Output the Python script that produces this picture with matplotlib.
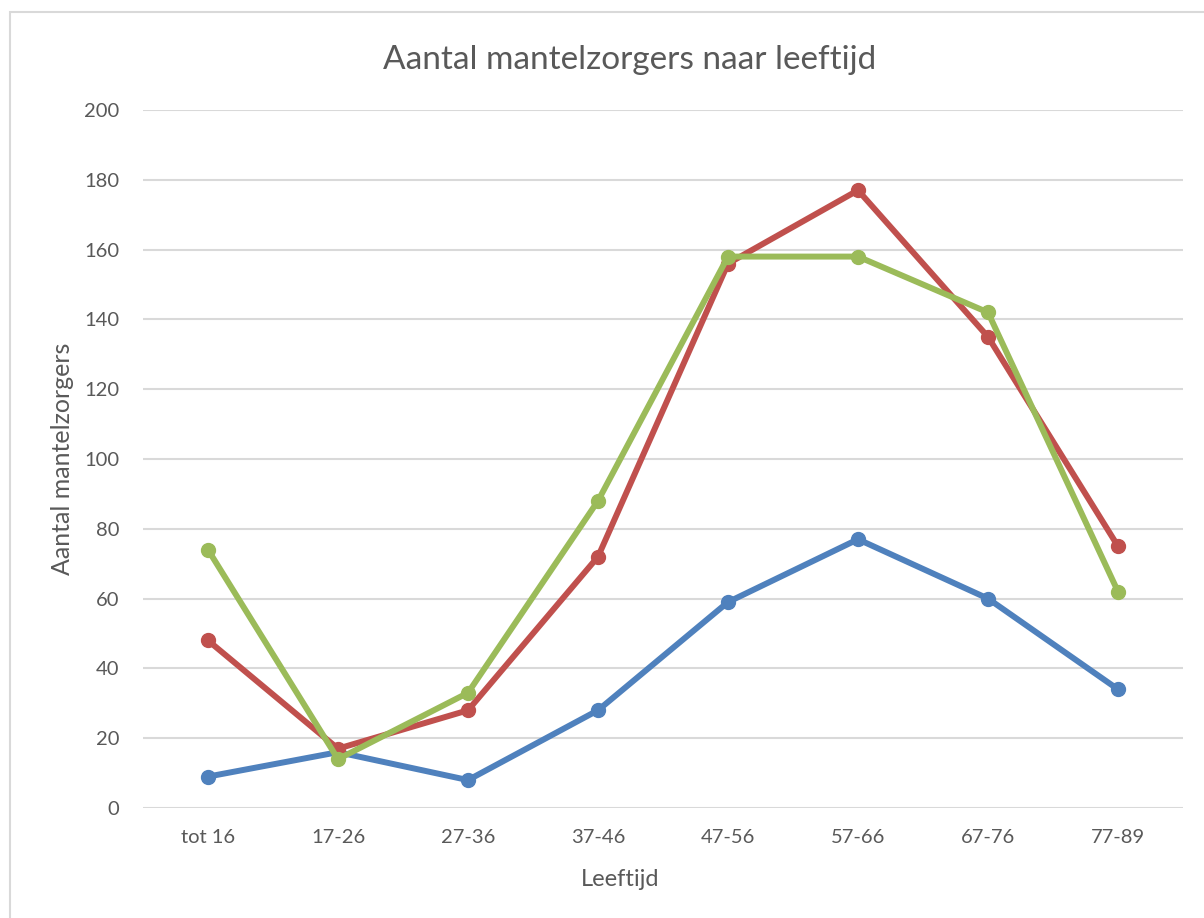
import matplotlib.pyplot as plt
from matplotlib.patches import Rectangle

leeftijd = ['tot 16', '17-26', '27-36', '37-46', '47-56', '57-66', '67-76', '77-89']
reeks_blauw = [9, 16, 8, 28, 59, 77, 60, 34]
reeks_rood = [48, 17, 28, 72, 156, 177, 135, 75]
reeks_groen = [74, 14, 33, 88, 158, 158, 142, 62]
y_ticks = [0, 20, 40, 60, 80, 100, 120, 140, 160, 180, 200]

plt.rcParams['font.family'] = ['Lato', 'DejaVu Sans']
text_color = '#595959'
grid_color = '#d9d9d9'

W, H = 1204, 918
fig = plt.figure(figsize=(W / 100, H / 100), dpi=100)
ax = fig.add_axes([143 / W, 1 - 808 / H, (1183 - 143) / W, (808 - 110) / H])

# chart-area border, cut off at right and bottom like the screenshot
fig.patches.append(Rectangle((9.5 / W, -0.2), 1.2, 1 - 12.5 / H + 0.2,
                             transform=fig.transFigure, fill=False,
                             edgecolor=grid_color, linewidth=1.5))

x = list(range(len(leeftijd)))
for values, color in [(reeks_blauw, '#4f81bd'), (reeks_rood, '#c0504d'),
                      (reeks_groen, '#9bbb59')]:
    ax.plot(x, values, color=color, linewidth=4.3, marker='o', markersize=10,
            solid_capstyle='round', zorder=3)

ax.set_xlim(-0.5, len(leeftijd) - 0.5)
ax.set_ylim(0, 200)
ax.set_yticks(y_ticks)
ax.set_xticks(x)
ax.set_xticklabels(leeftijd)
ax.grid(axis='y', color=grid_color, linewidth=1.5, zorder=0)
for side in ['top', 'right', 'left', 'bottom']:
    ax.spines[side].set_visible(False)
ax.tick_params(length=0, labelsize=14.5, colors=text_color)
ax.tick_params(axis='y', pad=17)
ax.tick_params(axis='x', pad=15)

fig.text(630 / W, 1 - 60 / H, 'Aantal mantelzorgers naar leeftijd', fontsize=24,
         color=text_color, ha='center', va='center')
fig.text(620 / W, 1 - 880 / H, 'Leeftijd', fontsize=17, color=text_color,
         ha='center', va='center')
fig.text(62 / W, 1 - 459 / H, 'Aantal mantelzorgers', fontsize=18, color=text_color,
         ha='center', va='center', rotation=90)

fig.savefig('out.png', dpi=100)
